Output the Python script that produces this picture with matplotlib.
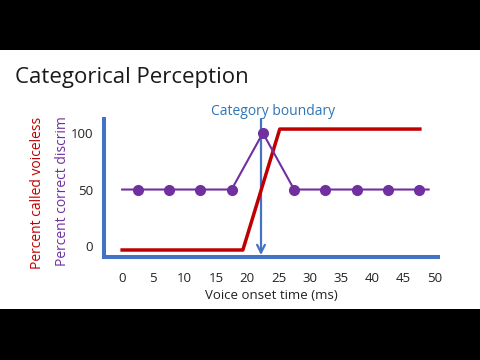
import matplotlib
matplotlib.use("Agg")
import matplotlib.pyplot as plt
from matplotlib.patches import Rectangle

plt.rcParams['font.family'] = ['Open Sans', 'DejaVu Sans']

# percent called voiceless (red)
vot_red = [0, 19.3, 25.2, 47.6]
pct_voiceless = [-3.5, -3.5, 103.5, 103.5]

# percent correct discrimination (purple)
vot_disc = [2.5, 7.5, 12.5, 17.5, 22.5, 27.5, 32.5, 37.5, 42.5, 47.5]
pct_correct = [50, 50, 50, 50, 100, 50, 50, 50, 50, 50]
line_start, line_end = 0, 49

boundary = 22.2
xticks = [0, 5, 10, 15, 20, 25, 30, 35, 40, 45, 50]
yticks = [0, 50, 100]

red = '#C00000'
purple = '#7030A0'
blue = '#4472C4'

W, H = 480, 360
fig = plt.figure(figsize=(4.8, 3.6), dpi=100)
fig.patch.set_facecolor('black')
fig.patches.append(Rectangle((0, (H - 309) / H), 1, (309 - 50) / H,
                             transform=fig.transFigure, facecolor='white',
                             edgecolor='none', zorder=-10))

fig.text(15 / W, 1 - 78 / H, 'Categorical Perception', fontsize=16,
         color='#1a1a1a', va='center', ha='left')

left, right, top, bottom = 104, 438, 119, 257
ax = fig.add_axes([left / W, (H - bottom) / H, (right - left) / W, (bottom - top) / H])
ax.set_facecolor('none')
ax.set_xlim(-2.9, 50.5)
ax.set_ylim(-9.7, 112.4)

for s in ['top', 'right']:
    ax.spines[s].set_visible(False)
for s in ['left', 'bottom']:
    ax.spines[s].set_color(blue)
    ax.spines[s].set_linewidth(2.9)

ax.set_xticks(xticks)
ax.set_yticks(yticks)
ax.tick_params(length=0, labelsize=9.5, colors='#222222')
ax.tick_params(axis='x', pad=11)
ax.tick_params(axis='y', pad=8)

# category boundary arrow
ax.annotate('', xy=(boundary, -8), xytext=(boundary, 112.4),
            arrowprops=dict(arrowstyle='->', color=blue, lw=1.6,
                            mutation_scale=14, shrinkA=0, shrinkB=0),
            zorder=2)
ax.text(boundary + 2, 119, 'Category boundary', color='#2E75B6', fontsize=10,
        ha='center', va='center', clip_on=False)

ax.plot(vot_red, pct_voiceless, color=red, lw=2.5, zorder=3, clip_on=False)

ax.plot([line_start] + vot_disc + [line_end],
        [pct_correct[0]] + pct_correct + [pct_correct[-1]],
        color=purple, lw=1.5, zorder=4, clip_on=False)
ax.plot(vot_disc, pct_correct, 'o', color=purple, ms=7, zorder=5, clip_on=False)

ax.set_xlabel('Voice onset time (ms)', fontsize=9.5, color='#222222', labelpad=3)

fig.text(38 / W, 1 - 193 / H, 'Percent called voiceless', rotation=90,
         color=red, fontsize=10, ha='center', va='center')
fig.text(63 / W, 1 - 191 / H, 'Percent correct discrim', rotation=90,
         color=purple, fontsize=10, ha='center', va='center')

fig.savefig('out.png', dpi=100, facecolor=fig.get_facecolor())
